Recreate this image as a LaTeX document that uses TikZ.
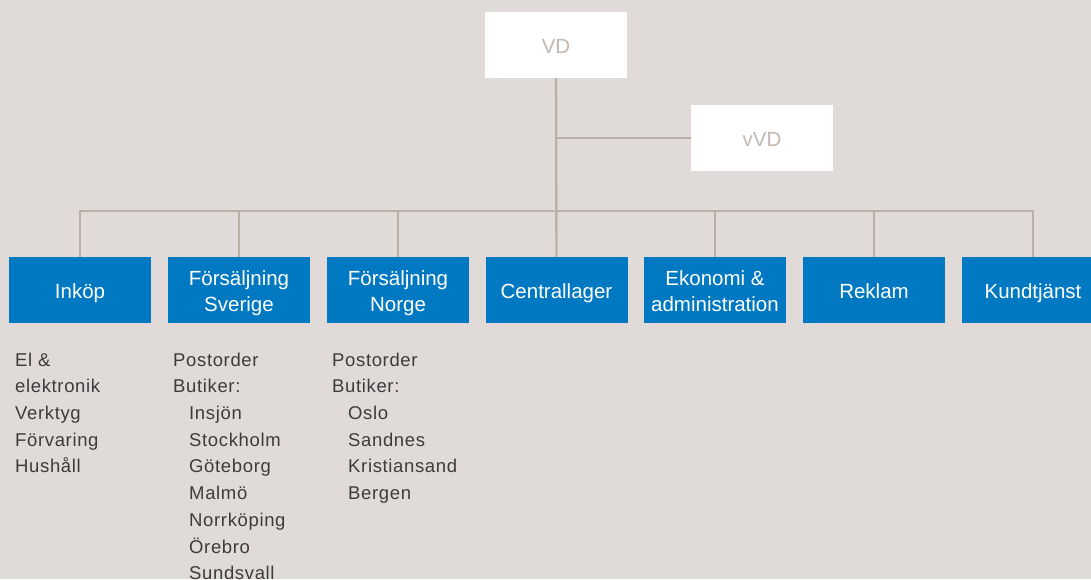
\documentclass[tikz,border=0pt]{standalone}
\usepackage{fontspec}
\setmainfont{Liberation Sans}
\newfontfamily\boxfont{Liberation Sans}
\newfontfamily\listfont[LetterSpace=3.5]{Liberation Sans}
\newcommand{\topstrut}{\rule{0pt}{22pt}}
\newcommand{\botstrut}{\rule[-5pt]{0pt}{0pt}}
\definecolor{bg}{HTML}{E0DBD8}
\definecolor{boxblue}{HTML}{0079C2}
\definecolor{linegrey}{HTML}{BBB0A8}
\definecolor{vdtext}{HTML}{C2B8B1}
\definecolor{listtext}{HTML}{3C3C3C}
\tikzset{
  topbox/.style={fill=white, minimum width=142pt, minimum height=66pt, inner sep=0pt},
  unitbox/.style={fill=boxblue, minimum width=142pt, minimum height=66pt, inner sep=0pt},
  toptext/.style={inner sep=0pt, text=vdtext, font=\boxfont\fontsize{20.5}{25.7}\selectfont},
  unittext/.style={inner sep=0pt, text=white, align=center, font=\boxfont\fontsize{20.5}{25.7}\selectfont},
  conn/.style={draw=linegrey, line width=2.4pt},
  listtxt/.style={anchor=north west, inner sep=0pt, align=left, text=listtext,
    font=\listfont\fontsize{18.5}{26.7}\selectfont}
}
\begin{document}
\begin{tikzpicture}[x=1pt,y=-1pt]
\useasboundingbox (0,0) rectangle (1091,579);
\fill[bg] (0,0) rectangle (1091,579);
\clip (0,0) rectangle (1091,579);
\node[topbox] (vd) at (556,45) {};
\node[topbox] (vvd) at (762,138) {};
\node[toptext] (tvd) at (vd) {\topstrut VD\botstrut};
\node[toptext] (tvvd) at (vvd) {\topstrut vVD\botstrut};
\node[unitbox] (b1) at (80,290) {};
\node[unitbox] (b2) at (239,290) {};
\node[unitbox] (b3) at (398,290) {};
\node[unitbox] (b4) at (556.5,290) {};
\node[unitbox] (b5) at (715,290) {};
\node[unitbox] (b6) at (874,290) {};
\node[unitbox] (b7) at (1033,290) {};
\node[unittext] (t1) at (b1) {\topstrut Inköp\botstrut};
\node[unittext] (t2) at (b2) {\topstrut Försäljning\\Sverige\botstrut};
\node[unittext] (t3) at (b3) {\topstrut Försäljning\\Norge\botstrut};
\node[unittext] (t4) at (b4) {\topstrut Centrallager\botstrut};
\node[unittext] (t5) at (b5) {\topstrut Ekonomi \&\\administration\botstrut};
\node[unittext] (t6) at (b6) {\topstrut Reklam\botstrut};
\node[unittext] (t7) at (b7) {\topstrut Kundtjänst\botstrut};
\coordinate (bus) at (556.5,211);
\draw[conn] (vd.south) -- (b4.north);
\draw[conn] (vd.south |- vvd.west) -- (vvd.west);
\draw[conn] (b1.north) |- (bus) -| (b7.north);
\foreach \b in {b2,b3,b5,b6}{\draw[conn] (\b.north) -- (\b.north |- bus);}
\node[listtxt] (l1) at (15,352.5) {El \&\\elektronik\\Verktyg\\Förvaring\\Hushåll};
\node[listtxt] (l2) at (173,352.5) {Postorder\\Butiker:\\\hspace*{16pt}Insjön\\\hspace*{16pt}Stockholm\\\hspace*{16pt}Göteborg\\\hspace*{16pt}Malmö\\\hspace*{16pt}Norrköping\\\hspace*{16pt}Örebro\\\hspace*{16pt}Sundsvall};
\node[listtxt] (l3) at (332,352.5) {Postorder\\Butiker:\\\hspace*{16pt}Oslo\\\hspace*{16pt}Sandnes\\\hspace*{16pt}Kristiansand\\\hspace*{16pt}Bergen};
\end{tikzpicture}
\end{document}
